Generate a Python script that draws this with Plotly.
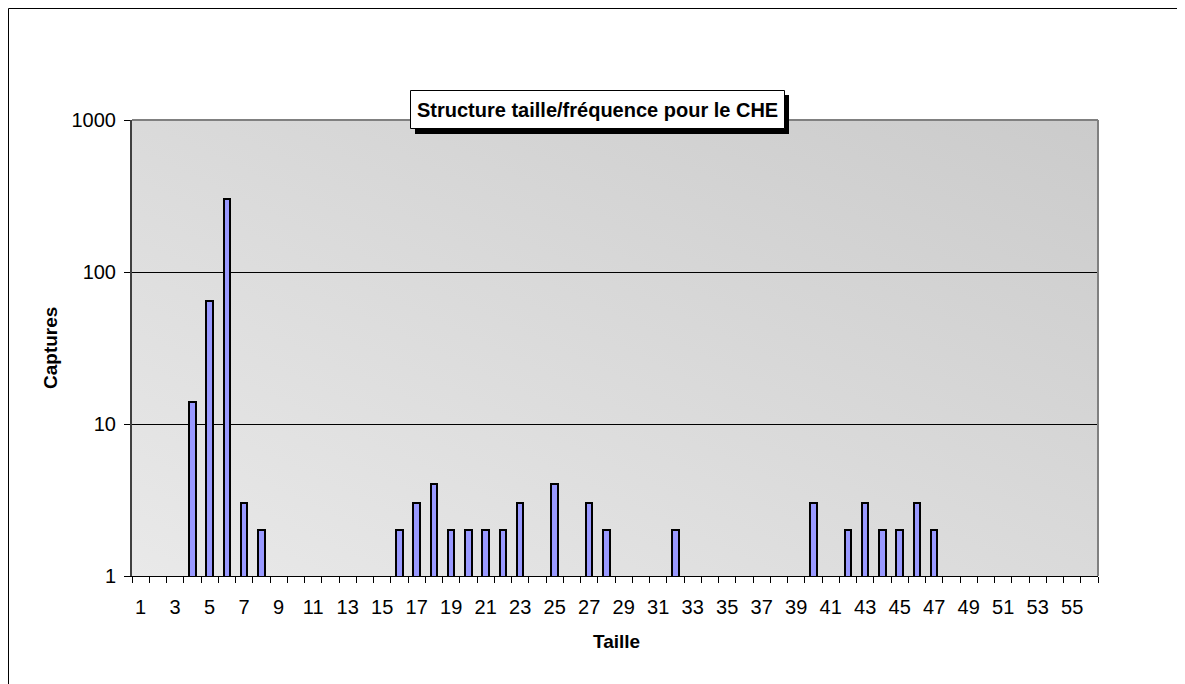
import base64
import plotly.graph_objects as go

# ---- data ----
tailles = list(range(1, 57))
captures_nonzero = {4: 14, 5: 64, 6: 300, 7: 3, 8: 2,
                    16: 2, 17: 3, 18: 4, 19: 2, 20: 2, 21: 2, 22: 2, 23: 3,
                    25: 4, 27: 3, 28: 2, 32: 2,
                    40: 3, 42: 2, 43: 3, 44: 2, 45: 2, 46: 3, 47: 2}
captures = [captures_nonzero.get(t) for t in tailles]
x_tick_labels = [str(v) for v in range(1, 57, 2)]
y_tick_vals = [1, 10, 100, 1000]
y_tick_labels = ["1", "10", "100", "1000"]
title_text = "Structure taille/fréquence pour le CHE"
x_title = "Taille"
y_title = "Captures"

# ---- layout geometry (page pixels; page body has an 8px margin) ----
OFF = 8
W, H = 1185 - OFF, 684 - OFF
L, R, T, B = 132, 1098, 120, 576  # plot area in page pixels


def px(x):
    return (x - L) / (R - L)


def py(y):
    return (B - y) / (B - T)


FONT = "Liberation Sans, Arial, sans-serif"

svg = ('<svg xmlns="http://www.w3.org/2000/svg" width="100" height="100" '
       'preserveAspectRatio="none" viewBox="0 0 100 100">'
       '<defs><linearGradient id="g" x1="1" y1="0" x2="0" y2="1">'
       '<stop offset="0" stop-color="#cbcbcb"/><stop offset="1" stop-color="#e9e9e9"/>'
       '</linearGradient></defs><rect width="100" height="100" fill="url(#g)"/></svg>')
bg_src = "data:image/svg+xml;base64," + base64.b64encode(svg.encode()).decode()

fig = go.Figure()
fig.add_trace(go.Bar(
    x=tailles, y=captures, width=0.38,
    marker=dict(color="#9999ff", line=dict(color="black", width=2)),
    hoverinfo="x+y",
))

fig.update_layout(
    width=W, height=H, autosize=False,
    margin=dict(l=L - OFF, r=W - (R - OFF), t=T - OFF, b=H - (B - OFF), pad=0),
    paper_bgcolor="white", plot_bgcolor="rgba(0,0,0,0)",
    showlegend=False,
    font=dict(family=FONT, size=20, color="black"),
    bargap=0,
)
fig.update_xaxes(
    range=[0.5, 56.5], tickmode="array",
    tickvals=list(range(1, 57, 2)), ticktext=x_tick_labels,
    ticks="outside", ticklen=0, showgrid=False, zeroline=False,
    showline=True, linecolor="black", linewidth=1,
    minor=dict(tick0=0.5, dtick=1, ticks="outside", ticklen=6, tickcolor="black", showgrid=False),
    tickfont=dict(size=20, family=FONT), ticklabelstandoff=13,
)
fig.update_yaxes(
    type="log", range=[0, 3], tickmode="array",
    tickvals=y_tick_vals, ticktext=y_tick_labels,
    ticks="outside", ticklen=6, tickcolor="black",
    showgrid=True, gridcolor="black", gridwidth=1, zeroline=False,
    showline=True, linecolor="#404040", linewidth=2,
    tickfont=dict(size=20, family=FONT), ticklabelstandoff=4,
)

fig.add_layout_image(dict(source=bg_src, xref="paper", yref="paper", x=0, y=1,
                          sizex=1, sizey=1, sizing="stretch", layer="below",
                          xanchor="left", yanchor="top"))

shapes = [
    # plot-area top and right border (grey)
    dict(type="line", xref="paper", yref="paper", x0=0, x1=1, y0=1, y1=1,
         line=dict(color="#808080", width=2)),
    dict(type="line", xref="paper", yref="paper", x0=1, x1=1, y0=0, y1=1,
         line=dict(color="#808080", width=2)),
    # outer chart border (left and top visible)
    dict(type="line", xref="paper", yref="paper", x0=px(8.5), x1=px(1300), y0=py(8.5), y1=py(8.5),
         line=dict(color="black", width=1)),
    dict(type="line", xref="paper", yref="paper", x0=px(8.5), x1=px(8.5), y0=py(8.5), y1=py(800),
         line=dict(color="black", width=1)),
    # title shadow
    dict(type="rect", xref="paper", yref="paper", x0=px(415), x1=px(789), y0=py(95), y1=py(134),
         fillcolor="black", line=dict(width=0)),
    # title box
    dict(type="rect", xref="paper", yref="paper", x0=px(410.5), x1=px(784.5), y0=py(90.5), y1=py(128.5),
         fillcolor="white", line=dict(color="black", width=1)),
]
fig.update_layout(shapes=shapes)

fig.add_annotation(text=f"<b>{title_text}</b>", xref="paper", yref="paper",
                   x=px(597), y=py(109.5), xanchor="center", yanchor="middle",
                   showarrow=False, font=dict(size=20, family=FONT, color="black"))
fig.add_annotation(text=f"<b>{x_title}</b>", xref="paper", yref="paper",
                   x=px(616), y=py(641), xanchor="center", yanchor="middle",
                   showarrow=False, font=dict(size=19, family=FONT, color="black"))
fig.add_annotation(text=f"<b>{y_title}</b>", xref="paper", yref="paper",
                   x=px(50), y=py(348), xanchor="center", yanchor="middle", textangle=-90,
                   showarrow=False, font=dict(size=19, family=FONT, color="black"))

fig.write_html("out.html")
